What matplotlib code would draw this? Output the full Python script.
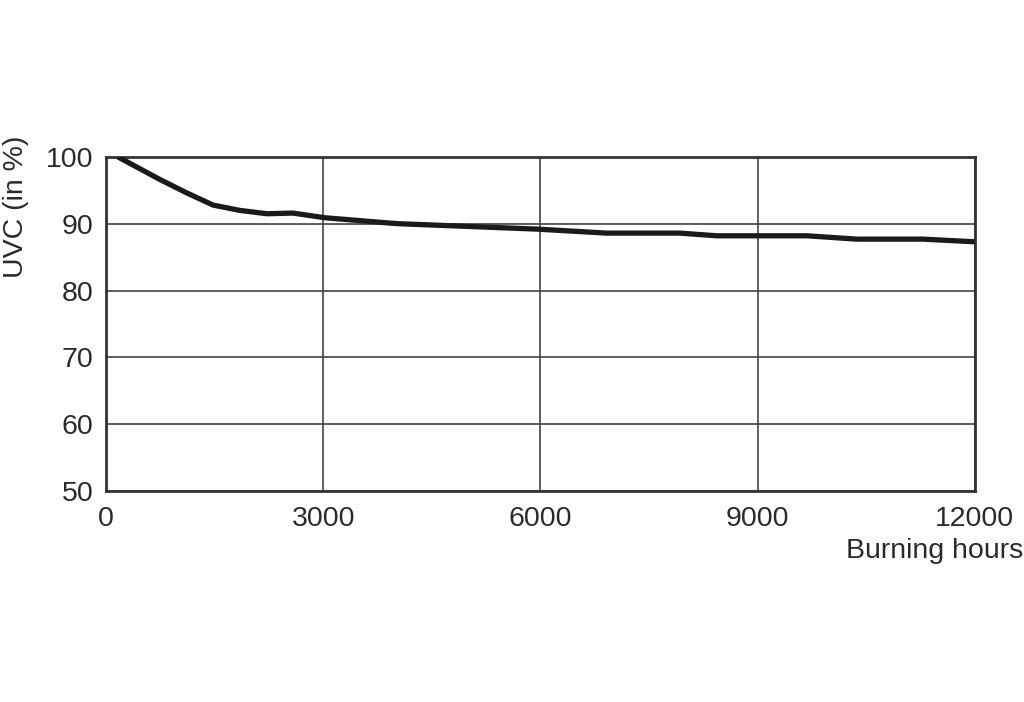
import matplotlib.pyplot as plt

# burning hours vs remaining UVC output (%)
hours = [166, 750, 1100, 1478, 1850, 2223, 2582, 3024, 3922, 4060, 5952, 6918, 7926, 8437, 9680, 10370, 11282, 12000]
uvc = [100, 96.6, 94.7, 92.8, 92.0, 91.5, 91.6, 90.9, 90.1, 90.0, 89.2, 88.6, 88.6, 88.2, 88.2, 87.7, 87.7, 87.3]

x_ticks = [0, 3000, 6000, 9000, 12000]
y_ticks = [50, 60, 70, 80, 90, 100]

plt.rcParams['font.family'] = ['Liberation Sans', 'DejaVu Sans']

fig = plt.figure(figsize=(10.24, 7.02), dpi=100)
ax = fig.add_axes([0.1035, 0.3006, 0.8485, 0.4758])

ax.plot(hours, uvc, color="#1a1a1a", linewidth=3.8, solid_capstyle="butt", zorder=3)

ax.set_xlim(0, 12000)
ax.set_ylim(50, 100)
ax.set_xticks(x_ticks)
ax.set_yticks(y_ticks)
ax.grid(True, color="#444444", linewidth=1.2)
ax.tick_params(axis="both", length=0, labelsize=20.5, labelcolor="#2a2a2a")
ax.tick_params(axis="x", pad=11)
ax.tick_params(axis="y", pad=9)
for s in ax.spines.values():
    s.set_linewidth(2)
    s.set_color("#333333")

fig.text(0.0156, 0.705, "UVC (in %)", rotation=90, ha="center", va="center",
         fontsize=20.5, color="#2a2a2a")
fig.text(0.999, 0.215, "Burning hours", ha="right", va="center",
         fontsize=20.5, color="#2a2a2a")

plt.savefig("out.png", dpi=100)
